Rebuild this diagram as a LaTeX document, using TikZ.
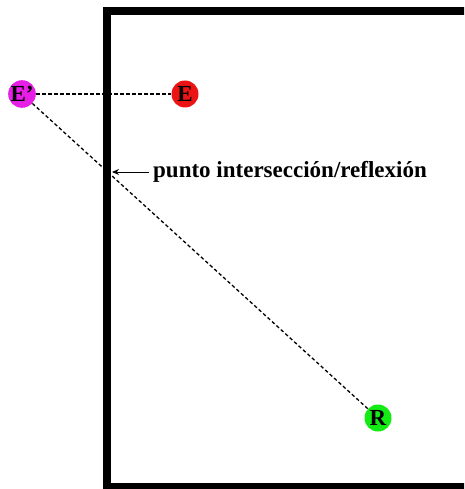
\documentclass[tikz,border=0pt]{standalone}
\usepackage{fontspec}
\setmainfont{Liberation Serif}
\usetikzlibrary{arrows.meta}
\definecolor{cmag}{RGB}{230,30,230}
\definecolor{cred}{RGB}{235,20,20}
\definecolor{cgreen}{RGB}{20,235,20}
\tikzset{
  pt/.style={circle, minimum size=27pt, inner sep=0pt, font=\bfseries\fontsize{23}{23}\selectfont},
  wall/.style={line width=8pt},
  ray/.style={dash pattern=on 3.5pt off 2.5pt, line width=1.3pt},
  lbl/.style={font=\bfseries\fontsize{23}{26}\selectfont, anchor=west, inner sep=0pt}
}
\begin{document}
\begin{tikzpicture}[x=1pt,y=-1pt]
\useasboundingbox (0,0) rectangle (464,489);
\begin{scope}
\clip (0,0) rectangle (464,489);
\draw[wall] (106.5,11) rectangle (480,487);
\end{scope}
\node[pt, fill=cmag] (Ep) at (22,94) {E'};
\node[pt, fill=cred] (E) at (185,94) {E};
\node[pt, fill=cgreen] (R) at (378,418) {R};
\draw[ray] (Ep) -- (E);
\draw[ray] (Ep) -- (R);
\node[lbl] (txt) at (153,172) {punto intersección/reflexión};
\coordinate (hit) at (112,172);
\draw[-{Stealth[length=7pt,width=6pt]}, line width=1pt] (txt.west) ++(-4,0) -- (hit);
\end{tikzpicture}
\end{document}
